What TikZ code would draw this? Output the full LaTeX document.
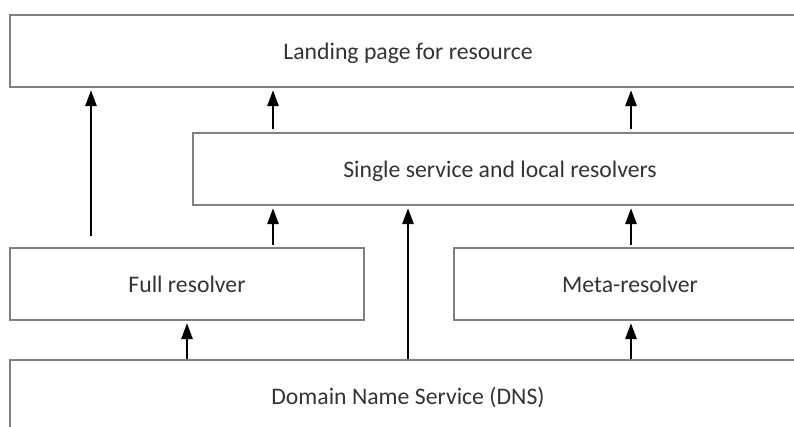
\documentclass[tikz,border=0pt]{standalone}
\usepackage{fontspec}
\setmainfont{Carlito}
\usetikzlibrary{arrows.meta}

\tikzset{
  layer/.style = {draw = gray, line width = 0.8pt, fill = white, inner sep = 0pt,
                  minimum height = 1.44cm, text = black!80,
                  font = \fontsize{13.5}{16}\selectfont, text depth = -2pt},
  flow/.style  = {-{Triangle[length = 9pt, width = 6.5pt]}, line width = 0.9pt,
                  shorten > = 1.5pt}
}

\begin{document}
\begin{tikzpicture}[x = 0.02cm, y = -0.02cm]
\useasboundingbox (0,0) rectangle (794,426);
\clip (0,0) rectangle (794,426);

\node[layer, minimum width = 15.92cm] (landing) at (408,51) {Landing page for resource};
\node[layer, minimum width = 12.28cm] (single) at (500,169) {Single service and local resolvers};
\node[layer, minimum width = 7.08cm] (full) at (187,284) {Full resolver};
\node[layer, minimum width = 7.04cm] (meta) at (630,284) {Meta-resolver};
\node[layer, minimum width = 15.92cm] (dns) at (408,396) {Domain Name Service (DNS)};

% columns of the arrows
\coordinate (c1) at (91,0);
\coordinate (c2) at (273,0);
\coordinate (c3) at (187,0);
\coordinate (c4) at (408,0);
\coordinate (c5) at (631,0);

\draw[flow, shorten < = 6.2pt] (full.north -| c1) -- (landing.south -| c1);
\draw[flow, shorten < = 2pt] (single.north -| c2) -- (landing.south -| c2);
\draw[flow, shorten < = 2pt] (single.north -| c5) -- (landing.south -| c5);
\draw[flow, shorten < = 1.5pt] (full.north -| c2) -- (single.south -| c2);
\draw[flow, shorten < = 1.5pt] (meta.north -| c5) -- (single.south -| c5);
\draw[flow] (dns.north -| c4) -- (single.south -| c4);
\draw[flow] (dns.north -| c3) -- (full.south -| c3);
\draw[flow] (dns.north -| c5) -- (meta.south -| c5);
\end{tikzpicture}
\end{document}
